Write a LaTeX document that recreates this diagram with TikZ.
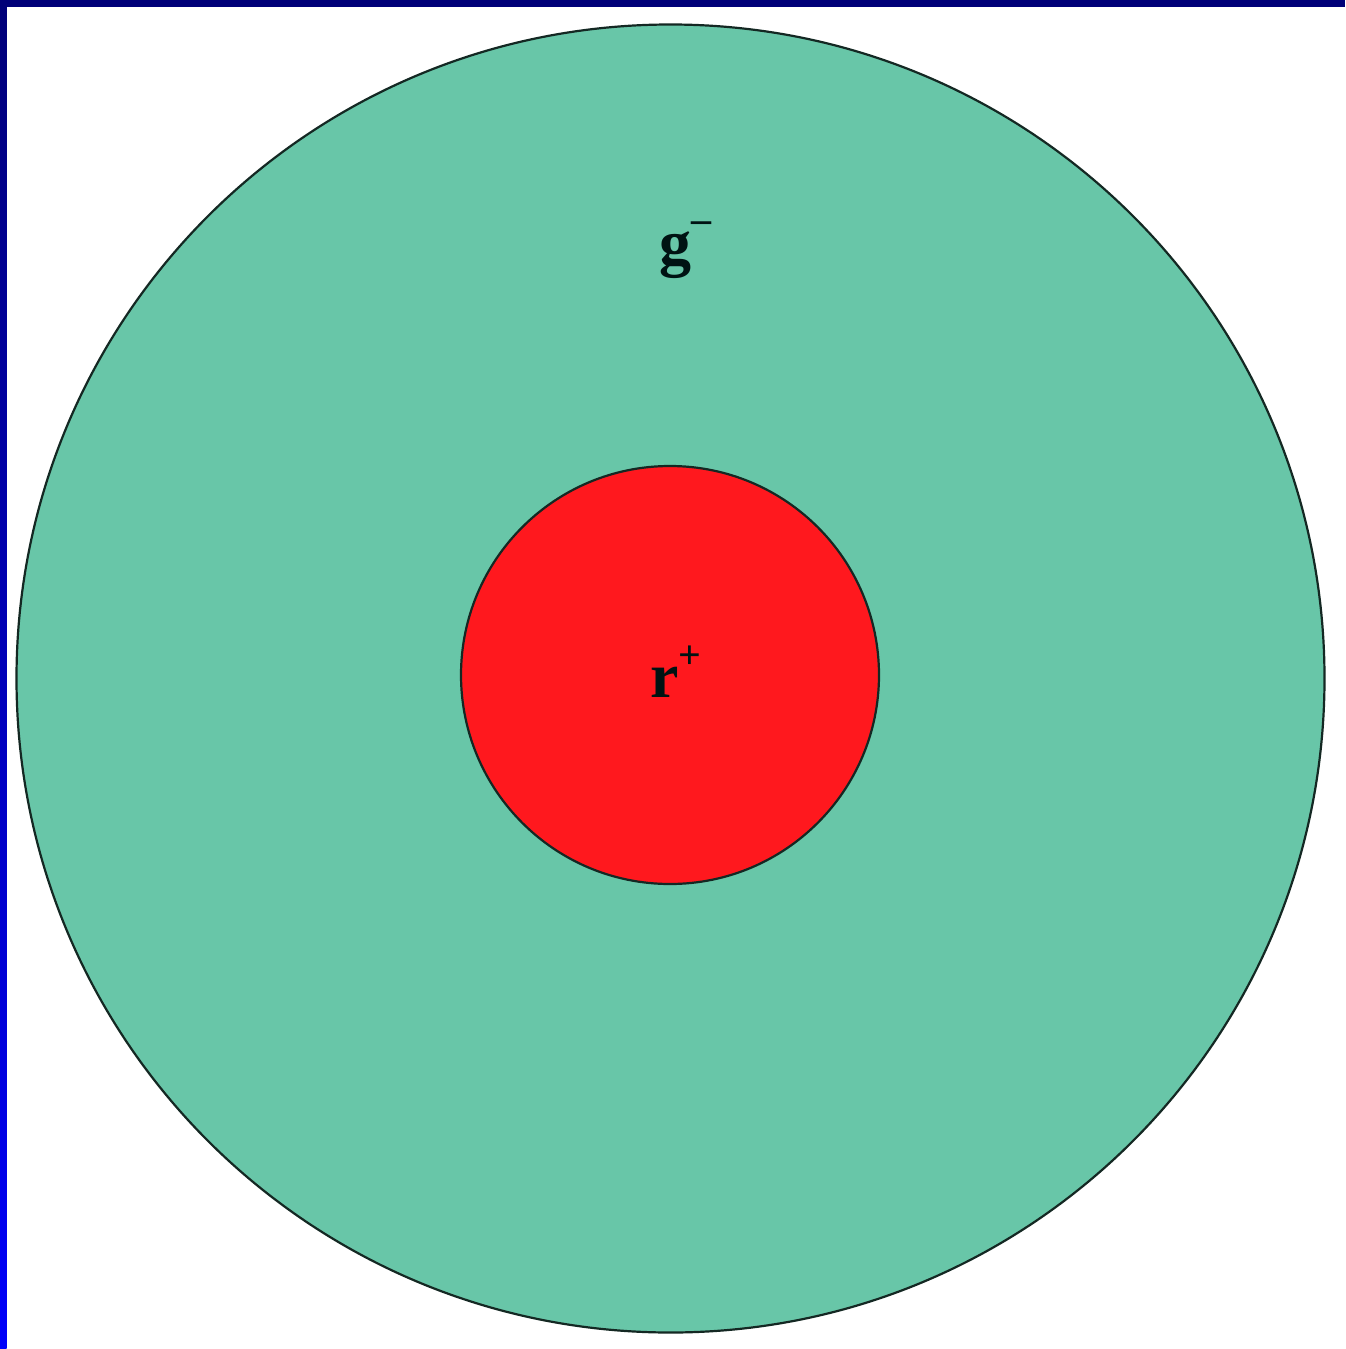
\documentclass[tikz,border=0pt]{standalone}
\usepackage{fontspec}
\setmainfont{Liberation Serif}
\definecolor{tealfill}{RGB}{104,198,168}
\definecolor{redfill}{RGB}{255,24,30}
\definecolor{navy}{RGB}{0,0,120}
\definecolor{brightblue}{RGB}{0,0,250}
\definecolor{rimline}{RGB}{20,40,35}
\tikzset{
  disc/.style={circle, draw=rimline, line width=2.2pt, inner sep=0pt},
  lbl/.style={font=\fontsize{64}{64}\selectfont\bfseries, text=black!85!teal, inner sep=0pt}
}
\begin{document}
\begin{tikzpicture}[x=1pt,y=-1pt]
\useasboundingbox (0,0) rectangle (1345,1349);
\fill[white] (0,0) rectangle (1345,1349);
\shade[top color=navy, bottom color=brightblue] (0,0) rectangle (6.5,1349);
\fill[navy] (0,0) rectangle (1345,6.5);
\node[disc, fill=tealfill, minimum size=1308pt] (outer) at (670.5,678.5) {};
\node[disc, fill=redfill, minimum size=418pt] (inner) at (670,675) {};
\node[lbl] (g) at (685,250) {g\raisebox{0.5em}{\fontsize{40}{40}\selectfont\textendash}};
\node[lbl] (r) at (676,672) {r\raisebox{0.45em}{\fontsize{40}{40}\selectfont +}};
\end{tikzpicture}
\end{document}
